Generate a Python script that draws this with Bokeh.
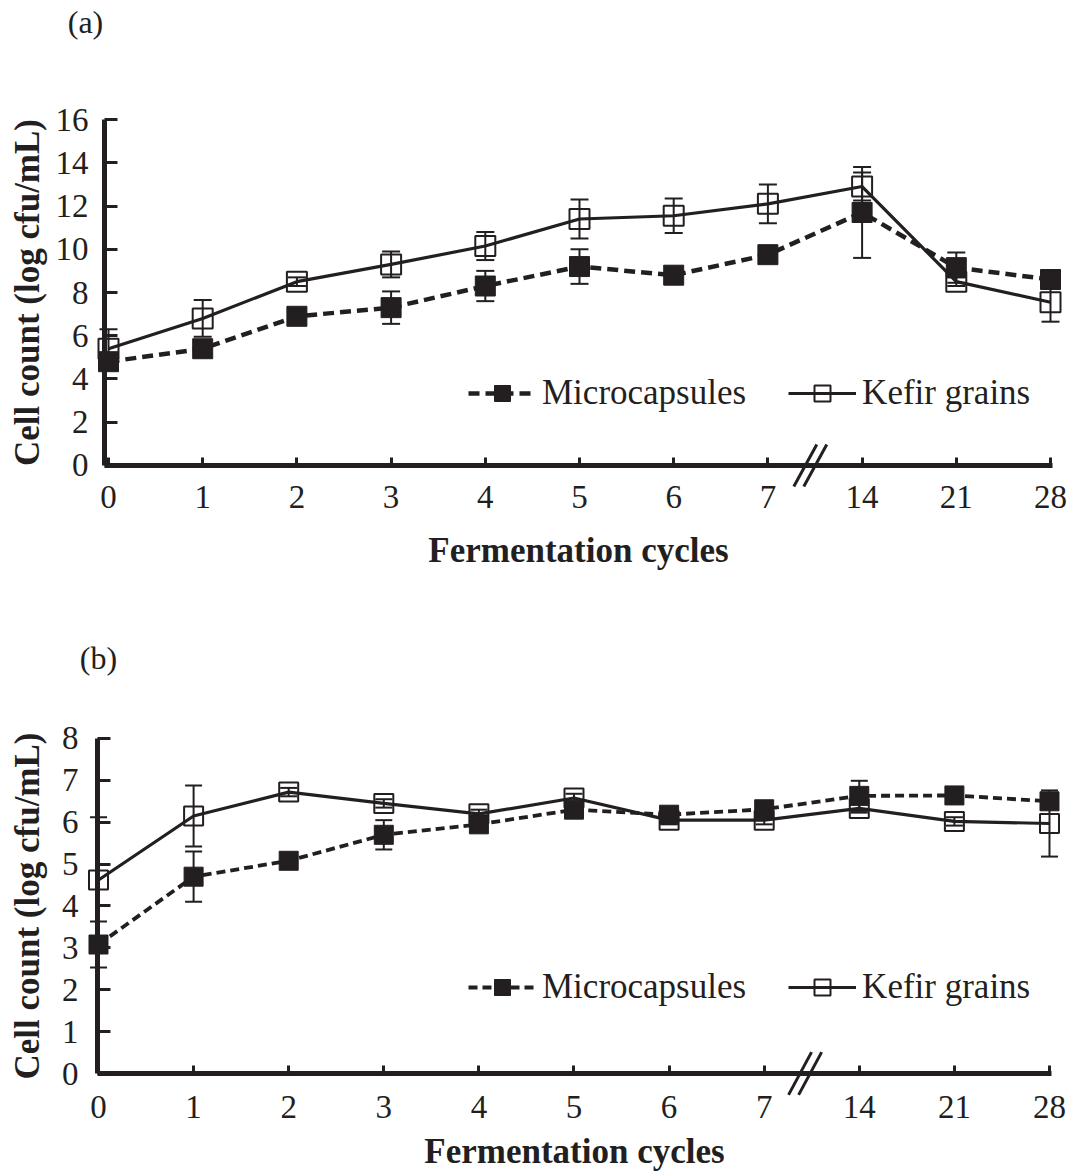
from bokeh.plotting import figure
from bokeh.models import (Range1d, FixedTicker, Legend, LegendItem, Whisker,
                          TeeHead, Arrow, Label, ColumnDataSource)
from bokeh.layouts import column
from bokeh.embed import file_html
from bokeh.resources import INLINE

# ---------------- data ----------------
cycles = ["0", "1", "2", "3", "4", "5", "6", "7", "14", "21", "28"]

a_micro = [4.8, 5.4, 6.9, 7.3, 8.3, 9.2, 8.8, 9.75, 11.7, 9.15, 8.6]
a_micro_err = [0.2, 0.2, 0.2, 0.75, 0.7, 0.8, 0.2, 0.2, 2.1, 0.7, 0.2]
a_kefir = [5.4, 6.8, 8.5, 9.3, 10.15, 11.4, 11.55, 12.1, 12.9, 8.5, 7.55]
a_kefir_err = [0.9, 0.85, 0.2, 0.6, 0.65, 0.9, 0.8, 0.9, 0.65, 0.2, 0.9]

b_micro = [3.08, 4.7, 5.08, 5.7, 5.95, 6.3, 6.18, 6.31, 6.63, 6.64, 6.5]
b_micro_err = [0.55, 0.6, 0.1, 0.35, 0.1, 0.1, 0.1, 0.1, 0.36, 0.1, 0.1]
b_kefir = [4.62, 6.15, 6.72, 6.45, 6.2, 6.58, 6.05, 6.05, 6.33, 6.02, 5.97]
b_kefir_err = [1.5, 0.73, 0.1, 0.1, 0.1, 0.1, 0.1, 0.1, 0.1, 0.1, 0.79]

series_names = ["Microcapsules", "Kefir grains"]
y_title = "Cell count (log cfu/mL)"
x_title = "Fermentation cycles"

INK = "#231f20"
FONT = "Liberation Serif"


def panel(tag, micro, micro_err, kefir, kefir_err, y_max, y_step, height,
          xr, yr, yaxis_at, x_lab_standoff, x_title_standoff,
          y_lab_standoff, y_title_standoff, legend_loc, tag_xy, brk_x, brk_dx,
          brk_dy, msize, dash_w, dash, cap):
    n = len(cycles)
    xs = list(range(n))
    p = figure(width=1076, height=height, output_backend="svg",
               toolbar_location=None,
               x_range=Range1d(*xr), y_range=Range1d(*yr),
               min_border=0, min_border_left=0, min_border_right=0,
               min_border_top=0, min_border_bottom=0)
    p.title.visible = False
    p.outline_line_color = None
    p.xgrid.visible = False
    p.ygrid.visible = False
    p.background_fill_color = "white"

    # axes
    for ax in (p.xaxis[0], p.yaxis[0]):
        ax.axis_line_width = 5
        ax.axis_line_color = INK
        ax.major_tick_line_width = 3
        ax.major_tick_line_color = INK
        ax.major_tick_out = 0
        ax.minor_tick_line_color = None
        ax.major_label_text_font = FONT
        ax.major_label_text_font_size = "33px"
        ax.major_label_text_color = INK
        ax.axis_label_text_font = FONT
        ax.axis_label_text_font_size = "35px"
        ax.axis_label_text_font_style = "bold"
        ax.axis_label_text_color = INK
    xa = p.xaxis[0]
    xa.fixed_location = 0
    xa.bounds = (yaxis_at, n - 1 + 0.02)
    xa.ticker = FixedTicker(ticks=xs)
    xa.major_label_overrides = {i: c for i, c in enumerate(cycles)}
    xa.major_tick_in = 8
    xa.major_label_standoff = x_lab_standoff
    xa.axis_label = x_title
    xa.axis_label_standoff = x_title_standoff
    ya = p.yaxis[0]
    ya.fixed_location = yaxis_at
    ya.bounds = (0, y_max)
    ya.ticker = FixedTicker(ticks=list(range(0, y_max + 1, y_step)))
    ya.major_tick_in = 13
    ya.major_label_standoff = y_lab_standoff
    ya.axis_label = y_title
    ya.axis_label_standoff = y_title_standoff

    src_m = ColumnDataSource(dict(x=xs, y=micro,
                                  lo=[v - e for v, e in zip(micro, micro_err)],
                                  hi=[v + e for v, e in zip(micro, micro_err)]))
    src_k = ColumnDataSource(dict(x=xs, y=kefir,
                                  lo=[v - e for v, e in zip(kefir, kefir_err)],
                                  hi=[v + e for v, e in zip(kefir, kefir_err)]))

    for src in (src_k, src_m):
        w = Whisker(source=src, base="x", upper="hi", lower="lo",
                    line_color=INK, line_width=2, level="underlay",
                    upper_head=TeeHead(size=cap, line_width=2, line_color=INK),
                    lower_head=TeeHead(size=cap, line_width=2, line_color=INK))
        p.add_layout(w)

    lk = p.line("x", "y", source=src_k, line_color=INK, line_width=3.2)
    lm = p.line("x", "y", source=src_m, line_color=INK, line_width=dash_w,
                line_dash=dash)
    sk = p.scatter("x", "y", source=src_k, marker="square", size=msize,
                   fill_alpha=0, line_color=INK, line_width=2)
    sm = p.scatter("x", "y", source=src_m, marker="square", size=msize,
                   fill_color=INK, line_color=INK, line_width=1)

    legend = Legend(items=[LegendItem(label=series_names[0], renderers=[lm, sm]),
                           LegendItem(label=series_names[1], renderers=[lk, sk])],
                    orientation="horizontal", location=legend_loc,
                    glyph_width=68, glyph_height=40, label_height=40,
                    label_standoff=6, spacing=42, padding=0, margin=0,
                    border_line_color=None, background_fill_alpha=0,
                    label_text_font=FONT, label_text_font_size="35px",
                    label_text_color=INK)
    p.add_layout(legend)

    # axis break marks "//"
    for off in (-0.053, 0.053):
        p.add_layout(Arrow(start=None, end=None,
                           x_start=brk_x + off - brk_dx, y_start=-brk_dy,
                           x_end=brk_x + off + brk_dx, y_end=brk_dy,
                           line_color=INK, line_width=3, level="overlay"))

    p.add_layout(Label(x=tag_xy[0], y=tag_xy[1], text=tag,
                       text_font=FONT, text_font_size="32px",
                       text_color=INK, text_align="center",
                       text_baseline="middle"))
    return p


pa = panel("(a)", a_micro, a_micro_err, a_kefir, a_kefir_err, 16, 2,
           height=580, xr=(-1.1465, 10.276), yr=(-5.318, 21.503),
           yaxis_at=-0.042,
           x_lab_standoff=21, x_title_standoff=19,
           y_lab_standoff=16, y_title_standoff=6,
           legend_loc=(468, 167), tag_xy=(-0.244, 20.49),
           brk_x=7.45, brk_dx=0.122, brk_dy=0.97,
           msize=20, dash_w=4.5, dash="11 6", cap=18)

pb = panel("(b)", b_micro, b_micro_err, b_kefir, b_kefir_err, 8, 1,
           height=593, xr=(-1.0305, 10.284), yr=(-2.388, 11.773),
           yaxis_at=-0.01,
           x_lab_standoff=22, x_title_standoff=11,
           y_lab_standoff=19, y_title_standoff=12,
           legend_loc=(468, 166), tag_xy=(0.0, 9.92),
           brk_x=7.43, brk_dx=0.121, brk_dy=0.51,
           msize=19, dash_w=3.8, dash="9 5", cap=17)

layout = column(pa, pb, spacing=0)
open("out.html", "w").write(file_html(layout, INLINE))
